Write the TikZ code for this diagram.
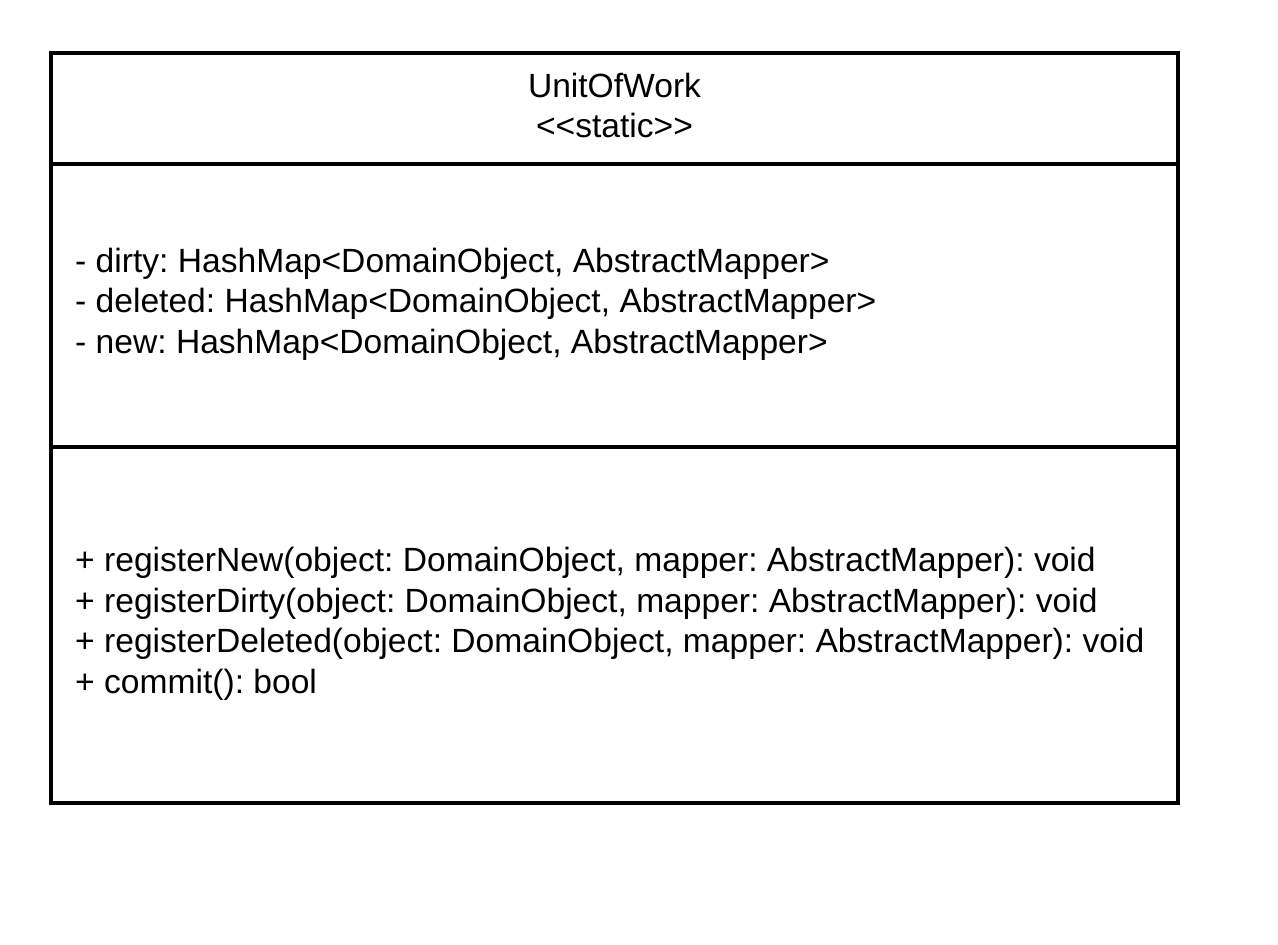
\documentclass[tikz,border=0pt]{standalone}
\usepackage{fontspec}
\setmainfont{Liberation Sans}
\frenchspacing
\begin{document}
\begin{tikzpicture}[x=1pt,y=-1pt,
  compartment/.style={draw=black,line width=3.3pt,fill=white},
  umltext/.style={inner sep=0pt,align=left,font=\fontsize{33.6}{40.5}\selectfont},
  umltitle/.style={inner sep=0pt,align=center,font=\fontsize{33.6}{40.5}\selectfont}]
  \useasboundingbox (0,0) rectangle (1278,945);
  % class box with three compartments
  \draw[compartment] (51,53) rectangle (1178,164);
  \draw[compartment] (51,164) rectangle (1178,447);
  \draw[compartment] (51,447) rectangle (1178,803);
  \node[umltitle] (name) at (614.5,105.5) {UnitOfWork\\{<}{<}static{>}{>}};
  \node[umltext,anchor=west] (attrs) at (75,304)
    {- dirty: HashMap{<}DomainObject, AbstractMapper{>}\\
     - deleted: HashMap{<}DomainObject, AbstractMapper{>}\\
     - new: HashMap{<}DomainObject, AbstractMapper{>}};
  \node[umltext,anchor=west] (ops) at (75,624)
    {+ registerNew(object: DomainObject, mapper: AbstractMapper): void\\
     + registerDirty(object: DomainObject, mapper: AbstractMapper): void\\
     + registerDeleted(object: DomainObject, mapper: AbstractMapper): void\\
     + commit(): bool};
\end{tikzpicture}
\end{document}
